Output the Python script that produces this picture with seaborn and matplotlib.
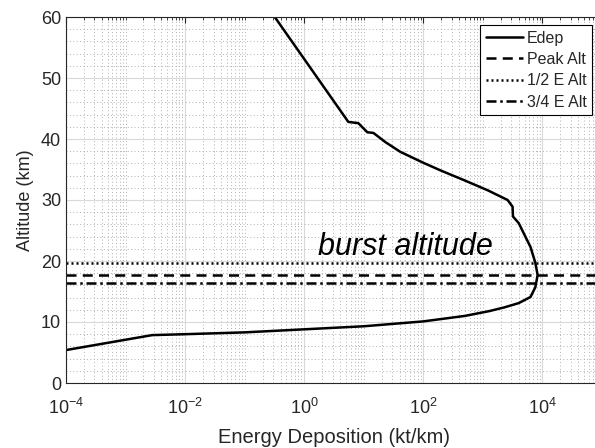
import numpy as np
import matplotlib
matplotlib.use('Agg')
import matplotlib.pyplot as plt
import seaborn as sns
from matplotlib.ticker import LogLocator, MultipleLocator, NullFormatter

# 能量沉积曲线
altitude = [5.4, 7.85, 8.0, 8.3, 8.8, 9.3, 10.1, 11.0, 11.8, 12.4, 13.1, 14.1, 15.7, 17.7,
            19.7, 22.3, 26.2, 27.3, 28.9, 30.0, 31.6, 33.3, 34.8, 36.1, 37.9, 39.5, 41.0,
            41.1, 42.6, 42.8, 60.0]
edep = [1.0e-4, 2.8e-3, 1.0e-2, 1.0e-1, 1.0, 10.0, 1.0e2, 5.0e2, 1.3e3, 2.3e3, 4.0e3,
        6.3e3, 7.6e3, 8.3e3, 7.6e3, 6.3e3, 4.0e3, 3.2e3, 3.15e3, 2.6e3, 1.2e3, 4.7e2,
        2.0e2, 1.0e2, 41.0, 23.0, 14.5, 11.5, 8.1, 5.5, 0.32]

peak_alt = 17.7
half_e_alt = 19.7
three_q_e_alt = 16.4

sns.set_style('white')
plt.rcParams['font.family'] = ['Liberation Sans', 'DejaVu Sans']
txt = '#262626'

fig = plt.figure(figsize=(5.95, 4.48), dpi=100)
ax = fig.add_axes([66/595, 65/448, 536/595, 366/448])

sns.lineplot(x=edep, y=altitude, sort=False, estimator=None, color='black',
             linewidth=1.8, ax=ax, label='Edep')
ax.axhline(peak_alt, color='black', linewidth=1.8, linestyle=(0, (4, 2.5)), label='Peak Alt')
ax.axhline(half_e_alt, color='black', linewidth=1.8, linestyle=(0, (0.8, 1.2)), label='1/2 E Alt')
ax.axhline(three_q_e_alt, color='black', linewidth=1.8, linestyle=(0, (4, 1.5, 1, 1.5)), label='3/4 E Alt')

ax.set_xscale('log')
ax.set_xlim(1e-4, 1e5)
ax.set_ylim(0, 60)
ax.set_xticks([1e-4, 1e-2, 1e0, 1e2, 1e4])
ax.xaxis.set_minor_locator(LogLocator(base=10, subs=np.arange(1, 10), numticks=50))
ax.xaxis.set_minor_formatter(NullFormatter())
ax.yaxis.set_major_locator(MultipleLocator(10))
ax.yaxis.set_minor_locator(MultipleLocator(2))

ax.grid(True, which='major', color='#d9d9d9', linewidth=0.8, linestyle='-')
ax.grid(True, which='minor', color='#b0b0b0', linewidth=0.7, linestyle=(0, (1, 2.5)))
ax.set_axisbelow(True)

ax.tick_params(axis='both', which='major', labelsize=13, colors=txt, direction='in',
               length=4, top=True, right=True)
ax.tick_params(axis='x', which='major', pad=11)
ax.tick_params(axis='both', which='minor', direction='in', length=2, colors=txt,
               top=True, right=True)
for s in ax.spines.values():
    s.set_color(txt)
    s.set_linewidth(0.8)

ax.set_xlabel('Energy Deposition (kt/km)', fontsize=14.5, color=txt, labelpad=7)
ax.set_ylabel('Altitude (km)', fontsize=13, color=txt, labelpad=5)

ax.text(1.7, 21.0, 'burst altitude', fontsize=22, style='italic', color='black',
        ha='left', va='baseline')

leg = ax.legend(loc='upper right', bbox_to_anchor=(592/595, 1 - 25/448),
                bbox_transform=fig.transFigure, borderaxespad=0, fontsize=11.5,
                frameon=True, fancybox=False, framealpha=1, edgecolor='black',
                handlelength=2.3, handletextpad=0.25, labelspacing=0.4, borderpad=0.35)
leg.get_frame().set_linewidth(0.8)

fig.savefig('out.png', dpi=100)
